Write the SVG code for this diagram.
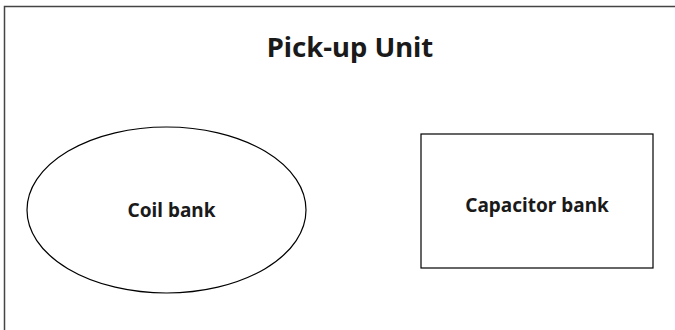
<svg xmlns="http://www.w3.org/2000/svg" width="675" height="330" viewBox="0 0 675 330">
<style>
.shape{fill:none;stroke:#000;stroke-width:1.2}
.frame{fill:none;stroke:#444;stroke-width:1.5}
.lbl{font-family:"Noto Sans","Open Sans","DejaVu Sans",sans-serif;font-weight:bold;fill:#1a1a1a;text-anchor:middle}
</style>
<rect width="675" height="330" fill="#fff"/>
<g id="pickup-unit">
<path class="frame" d="M4.5,340 V6.5 H680"/>
<text class="lbl" x="350" y="57" font-size="27.5">Pick-up Unit</text>
</g>
<g id="coil-bank">
<ellipse class="shape" cx="166.5" cy="210" rx="139.5" ry="83"/>
<text class="lbl" x="171.5" y="217" font-size="19">Coil bank</text>
</g>
<g id="capacitor-bank">
<rect class="shape" x="421" y="134" width="232" height="134"/>
<text class="lbl" x="537" y="212" font-size="19">Capacitor bank</text>
</g>
<g id="connectors"/>
</svg>
